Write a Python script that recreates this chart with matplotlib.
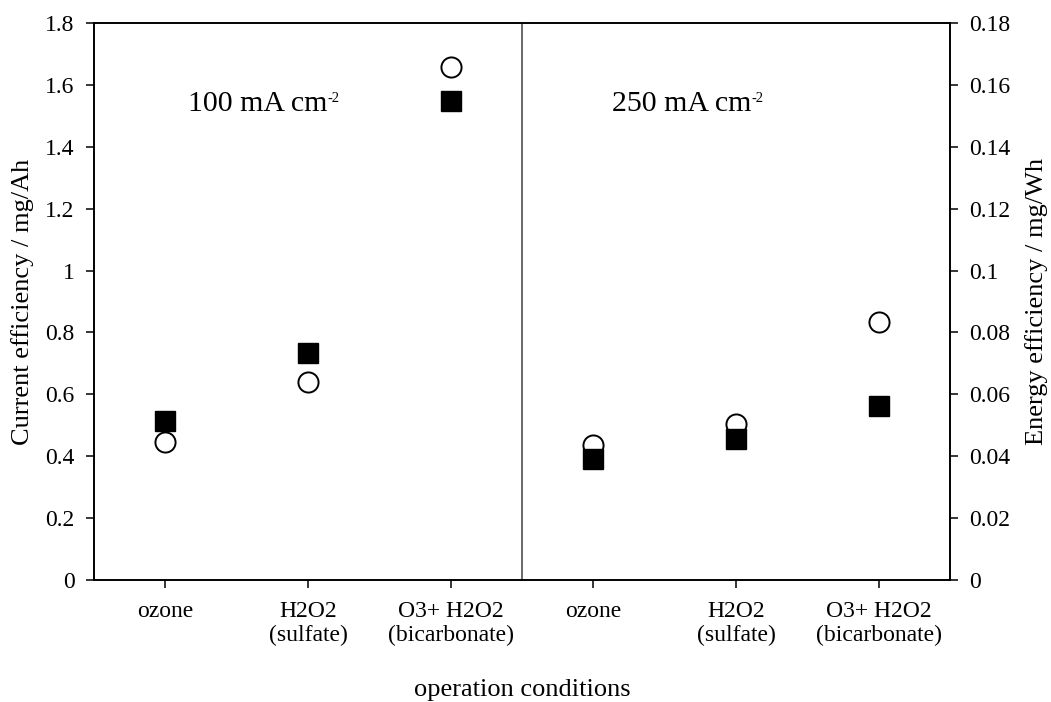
import matplotlib
matplotlib.use("Agg")
import matplotlib.pyplot as plt
from matplotlib.ticker import FuncFormatter

conditions = ["ozone", "H2O2\n(sulfate)", "O3+ H2O2\n(bicarbonate)",
              "ozone", "H2O2\n(sulfate)", "O3+ H2O2\n(bicarbonate)"]
current_eff = [0.447, 0.641, 1.658, 0.435, 0.505, 0.834]      # mg/Ah, open circles
energy_eff = [0.0515, 0.0735, 0.1548, 0.0392, 0.0456, 0.0561]  # mg/Wh, filled squares
group_labels = ["100 mA cm", "250 mA cm"]
group_sup = "-2"

plt.rcParams['font.family'] = ['Liberation Serif', 'DejaVu Serif']

fig = plt.figure(figsize=(10.51, 7.02), dpi=100)
ax = fig.add_axes([0.0894, 0.1738, 0.8145, 0.7934])
ax2 = ax.twinx()

x = list(range(len(conditions)))
ax.plot(x, current_eff, linestyle='none', marker='o', markersize=14.5,
        markerfacecolor='white', markeredgecolor='black', markeredgewidth=1.4)
ax2.plot(x, energy_eff, linestyle='none', marker='s', markersize=15,
         markerfacecolor='black', markeredgecolor='black')

ax.set_xlim(-0.5, 5.5)
ax.set_ylim(0, 1.8)
ax2.set_ylim(0, 0.18)
ax.set_yticks([i * 0.2 for i in range(10)])
ax2.set_yticks([i * 0.02 for i in range(10)])
fmt = FuncFormatter(lambda v, p: f"{v:.2f}".rstrip('0').rstrip('.') if v else "0")
ax.yaxis.set_major_formatter(fmt)
ax2.yaxis.set_major_formatter(fmt)
ax.set_xticks(x)
ax.set_xticklabels(conditions, linespacing=1.2)

for a in (ax, ax2):
    for s in a.spines.values():
        s.set_linewidth(1.2)
    a.tick_params(direction='out', length=6, width=1.1, labelsize=17, colors='black')
ax.tick_params(axis='x', pad=9)
ax.tick_params(axis='y', pad=8)
ax2.tick_params(axis='y', pad=8)

ax.axvline(2.5, color='#404040', linewidth=1.1)

# current density labels, superscript drawn as a separate small text
for xpos, lab in zip([0.16, 3.13], group_labels):
    t = ax.text(xpos, 1.515, lab, fontsize=21.5, va='baseline', ha='left')
    ax.annotate(group_sup, xy=(1, 0), xycoords=t, xytext=(0.3, 8.5),
                textcoords='offset points', fontsize=10.5, va='bottom', ha='left')

ax.set_ylabel("Current efficiency / mg/Ah", fontsize=19, labelpad=8)
ax2.set_ylabel("Energy efficiency / mg/Wh", fontsize=19, labelpad=10)
ax.set_xlabel("operation conditions", fontsize=19)
ax.xaxis.label.set_va('baseline')
ax.xaxis.set_label_coords(0.5, -0.208)

fig.savefig("out.png", dpi=100)
